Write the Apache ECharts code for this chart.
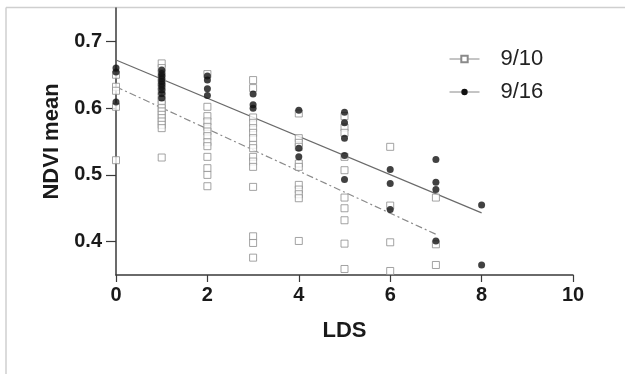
<!DOCTYPE html>
<html>
<head>
<meta charset="utf-8">
<script src="https://cdn.jsdelivr.net/npm/echarts@6/dist/echarts.min.js"></script>
<style>
  html, body { margin: 0; padding: 0; background: #fff; }
  #chart { width: 625px; height: 374px; }
</style>
</head>
<body>
<div id="chart"></div>
<script>
// NDVI mean per leaf-damage score (LDS), two survey dates
const lds910 = [
  0, 0, 0, 0, 0,
  1, 1, 1, 1, 1, 1, 1, 1, 1, 1, 1, 1, 1, 1, 1, 1, 1, 1,
  2, 2, 2, 2, 2, 2, 2, 2, 2, 2, 2, 2, 2,
  3, 3, 3, 3, 3, 3, 3, 3, 3, 3, 3, 3, 3, 3, 3, 3,
  4, 4, 4, 4, 4, 4, 4, 4, 4, 4, 4,
  5, 5, 5, 5, 5, 5, 5, 5, 5, 5,
  6, 6, 6, 6,
  7, 7, 7
];
const ndvi910 = [
  0.650, 0.632, 0.626, 0.602, 0.522,
  0.667, 0.660, 0.652, 0.645, 0.638, 0.632, 0.625, 0.618, 0.612, 0.606, 0.600, 0.595, 0.590, 0.585, 0.580, 0.575, 0.570, 0.526,
  0.651, 0.602, 0.588, 0.580, 0.572, 0.565, 0.558, 0.549, 0.543, 0.527, 0.510, 0.500, 0.483,
  0.642, 0.630, 0.586, 0.578, 0.570, 0.563, 0.555, 0.545, 0.540, 0.527, 0.520, 0.512, 0.482, 0.408, 0.398, 0.376,
  0.592, 0.555, 0.548, 0.542, 0.517, 0.512, 0.485, 0.478, 0.471, 0.465, 0.401,
  0.588, 0.571, 0.563, 0.527, 0.507, 0.466, 0.450, 0.432, 0.397, 0.359,
  0.542, 0.454, 0.399, 0.356,
  0.466, 0.396, 0.365
];
const lds916 = [
  0, 0, 0,
  1, 1, 1, 1, 1, 1, 1, 1, 1, 1,
  2, 2, 2, 2,
  3, 3, 3,
  4, 4, 4,
  5, 5, 5, 5, 5,
  6, 6, 6,
  7, 7, 7, 7,
  8, 8
];
const ndvi916 = [
  0.660, 0.654, 0.609,
  0.657, 0.652, 0.648, 0.644, 0.640, 0.636, 0.632, 0.627, 0.622, 0.615,
  0.648, 0.642, 0.629, 0.619,
  0.621, 0.605, 0.600,
  0.597, 0.540, 0.527,
  0.594, 0.578, 0.555, 0.529, 0.493,
  0.508, 0.487, 0.448,
  0.523, 0.489, 0.478, 0.401,
  0.455, 0.365
];
// fitted linear trends (end points)
const fitX910 = [0, 7];
const fitY910 = [0.632, 0.411];
const fitX916 = [0, 8];
const fitY916 = [0.672, 0.443];

const xTicks = [0, 2, 4, 6, 8, 10];
const yTicks = [0.4, 0.5, 0.6, 0.7];
const seriesNames = ['9/10', '9/16'];

const zip = (xs, ys) => xs.map((x, i) => [x, ys[i]]);

const axisColor = '#3a3a3a';
const chart = echarts.init(document.getElementById('chart'), null, { renderer: 'canvas' });

chart.setOption({
  backgroundColor: '#fff',
  animation: false,
  grid: { left: 116, right: 52, top: 8, bottom: 99, containLabel: false },
  xAxis: {
    type: 'value',
    min: xTicks[0],
    max: xTicks[xTicks.length - 1],
    interval: 2,
    name: 'LDS',
    nameLocation: 'middle',
    nameGap: 45,
    nameTextStyle: { fontFamily: 'Liberation Sans', fontWeight: 'bold', fontSize: 22, color: '#1a1a1a' },
    axisLine: { lineStyle: { color: axisColor, width: 1.5 } },
    axisTick: { show: true, length: 7, lineStyle: { color: axisColor, width: 1.2 } },
    axisLabel: { margin: 10, fontFamily: 'Liberation Sans', fontWeight: 'bold', fontSize: 20, color: '#1a1a1a' },
    splitLine: { show: false }
  },
  yAxis: {
    type: 'value',
    min: 0.35,
    max: 0.75,
    name: 'NDVI mean',
    nameLocation: 'middle',
    nameGap: 52,
    nameRotate: 90,
    nameTextStyle: { fontFamily: 'Liberation Sans', fontWeight: 'bold', fontSize: 22, color: '#1a1a1a' },
    axisLine: { show: true, lineStyle: { color: axisColor, width: 1.5 } },
    axisTick: { show: true, length: 10, customValues: yTicks, lineStyle: { color: axisColor, width: 1.2 } },
    axisLabel: {
      margin: 14,
      customValues: yTicks,
      formatter: v => v.toFixed(1),
      fontFamily: 'Liberation Sans', fontWeight: 'bold', fontSize: 20, color: '#1a1a1a'
    },
    splitLine: { show: false }
  },
  legend: {
    orient: 'vertical',
    left: 444,
    top: 43,
    itemWidth: 30,
    itemHeight: 8,
    itemGap: 11,
    data: seriesNames,
    lineStyle: { type: 'solid', width: 1, color: '#8a8a8a' },
    textStyle: { fontFamily: 'Liberation Sans', fontSize: 22, color: '#222', padding: [0, 0, 0, 16] }
  },
  graphic: [
    { type: 'line', shape: { x1: 6, y1: 7.5, x2: 625, y2: 7.5 }, style: { stroke: '#cfcfcf', lineWidth: 1.5 }, silent: true },
    { type: 'line', shape: { x1: 6, y1: 7.5, x2: 6, y2: 374 }, style: { stroke: '#cfcfcf', lineWidth: 1.5 }, silent: true }
  ],
  series: [
    {
      name: '9/10',
      type: 'line',
      data: zip(fitX910, fitY910),
      showSymbol: false,
      symbol: 'rect',
      symbolSize: 6,
      itemStyle: { color: '#fff', borderColor: '#8a8a8a', borderWidth: 1 },
      lineStyle: { color: '#8a8a8a', width: 1.2, type: [7, 3, 2, 3] },
      z: 1
    },
    {
      name: '9/16',
      type: 'line',
      data: zip(fitX916, fitY916),
      showSymbol: false,
      symbol: 'circle',
      symbolSize: 6,
      itemStyle: { color: '#111' },
      lineStyle: { color: '#6a6a6a', width: 1.2 },
      z: 1
    },
    {
      name: '9/10',
      type: 'scatter',
      data: zip(lds910, ndvi910),
      symbol: 'rect',
      symbolSize: 7,
      itemStyle: { color: '#fff', borderColor: '#8c8c8c', borderWidth: 1 },
      z: 2
    },
    {
      name: '9/16',
      type: 'scatter',
      data: zip(lds916, ndvi916),
      symbol: 'circle',
      symbolSize: 7,
      itemStyle: { color: '#111' },
      z: 3
    }
  ]
});
</script>
</body>
</html>
